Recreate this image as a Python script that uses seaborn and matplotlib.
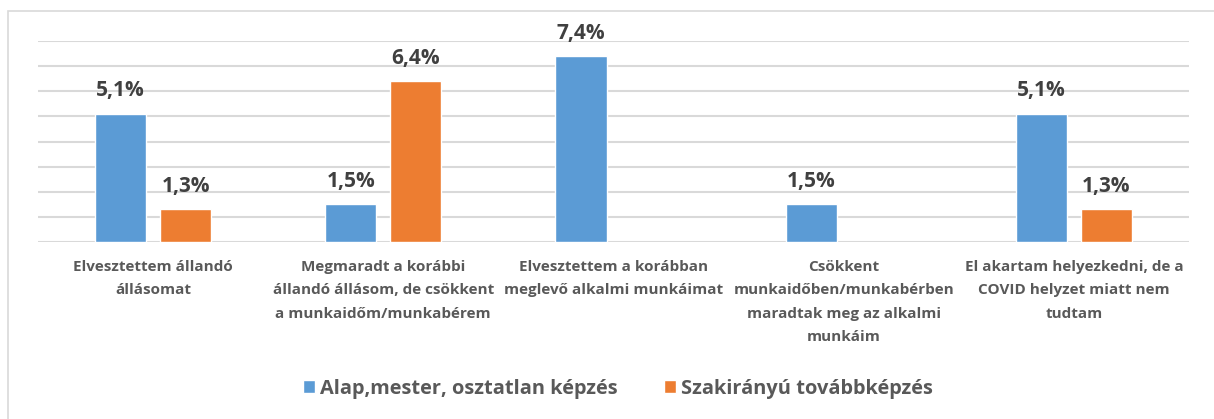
import numpy as np
import pandas as pd
import matplotlib.pyplot as plt
import seaborn as sns
from matplotlib.patches import Rectangle

# Chart data
categories = [
    "Elvesztettem állandó\nállásomat",
    "Megmaradt a korábbi\nállandó állásom, de csökkent\na munkaidőm/munkabérem",
    "Elvesztettem a korábban\nmeglevő alkalmi munkáimat",
    "Csökkent\nmunkaidőben/munkabérben\nmaradtak meg az alkalmi\nmunkáim",
    "El akartam helyezkedni, de a\nCOVID helyzet miatt nem\ntudtam",
]
series = ["Alap,mester, osztatlan képzés", "Szakirányú továbbképzés"]
alap = [5.1, 1.5, 7.4, 1.5, 5.1]
szak = [1.3, 6.4, None, None, 1.3]
colors = ["#5B9BD5", "#ED7D31"]

# Long format table for seaborn
df = pd.DataFrame({
    "kategoria": categories * 2,
    "csoport": [series[0]] * 5 + [series[1]] * 5,
    "ertek": alap + szak,
}).dropna()

sns.set_style("white")
plt.rcParams["font.family"] = ["Open Sans", "DejaVu Sans"]

fig = plt.figure(figsize=(12.14, 4.19), dpi=100)
ax = fig.add_axes([0.0313, 0.4224, 0.9481, 0.4797])

# light frame around the chart
fig.patches.append(Rectangle((8 / 1214, -0.1), 1.2, 1 - 11 / 419 + 0.1,
                             transform=fig.transFigure, fill=False,
                             edgecolor="#D9D9D9", linewidth=1.2))

sns.barplot(data=df, x="kategoria", y="ertek", hue="csoport", order=categories,
            hue_order=series, palette=colors, width=0.565, gap=0.215,
            saturation=1, legend=True, ax=ax)

ax.set_ylim(0, 8)
ax.set_yticks(np.arange(0, 9, 1))
ax.yaxis.grid(True, color="#D9D9D9", linewidth=1.5)
ax.set_axisbelow(True)
ax.set_yticklabels([])
ax.tick_params(axis="y", length=0)
ax.tick_params(axis="x", length=0, pad=13)
for s in ax.spines.values():
    s.set_visible(False)
ax.set_xlabel("")
ax.set_ylabel("")
ax.set_xlim(-0.5, 4.5)

for lbl in ax.get_xticklabels():
    lbl.set_fontsize(11)
    lbl.set_fontweight("bold")
    lbl.set_color("#595959")
    lbl.set_linespacing(1.85)
    lbl.set_verticalalignment("top")

# value labels
for cont in ax.containers:
    labels = []
    for bar in cont:
        h = bar.get_height()
        labels.append("" if np.isnan(h) or h == 0 else f"{h:.1f}%".replace(".", ","))
    ax.bar_label(cont, labels=labels, padding=9, fontsize=15,
                 fontweight="bold", color="#404040")

handles, labs = ax.get_legend_handles_labels()
ax.get_legend().remove()
fig.legend(handles, labs, loc="center", bbox_to_anchor=(0.509, 0.072), ncol=2,
           frameon=False, handlelength=0.6, handleheight=0.6,
           handletextpad=0.25, columnspacing=2.3,
           prop={"size": 14.4, "weight": "bold"}, labelcolor="#595959")

fig.savefig("out.png", dpi=100)
